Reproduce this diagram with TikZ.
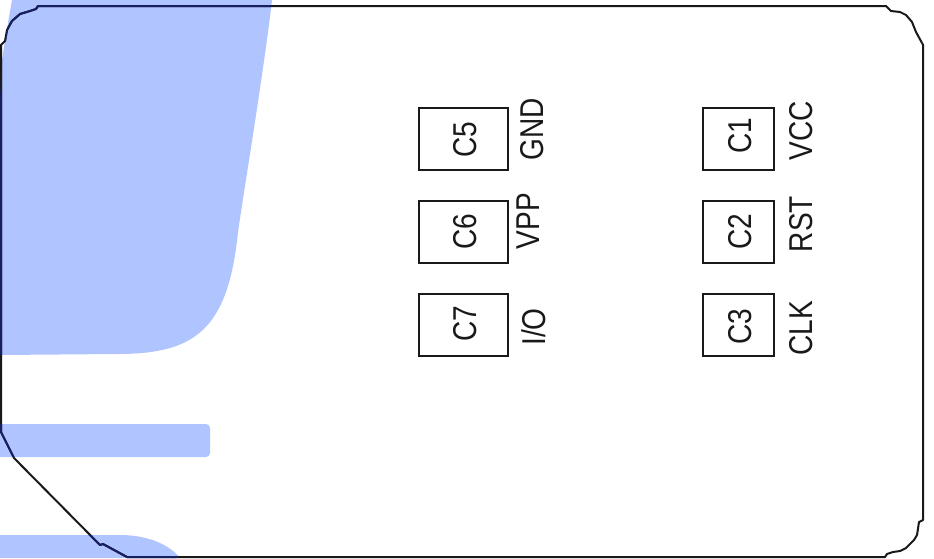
\documentclass[tikz,border=0pt]{standalone}
\usepackage{fontspec}
\setmainfont{Liberation Sans}
\definecolor{cardblue}{RGB}{176,196,255}
\definecolor{linenavy}{RGB}{22,32,96}
\definecolor{inkline}{RGB}{25,25,25}
\tikzset{
  padbox/.style={draw=inkline,line width=2pt,fill=white,minimum width=#1,minimum height=62pt,inner sep=0pt},
  padbox/.default=90pt,
  padtext/.style={rotate=90,xscale=.85,inner sep=0pt,text=inkline,font=\fontsize{33}{33}\selectfont},
}
\def\cardoutline{(38,6) -- (36,9) -- (30,11) -- (20,14) -- (12,21) -- (7,30) -- (5,41) -- (1,45) -- (1,432) -- (14,458) -- (100,545) -- (103,544) -- (127,557) -- (885,557) -- (887,554) -- (893,552) -- (900,551) -- (906,548) -- (914,540) -- (917,535) -- (919,522) -- (923,520) -- (923,45) -- (922,43) -- (916,32) -- (912,22) -- (906,15) -- (900,12) -- (891,11) -- (886,6) -- cycle}
\def\blueone{(12,0) -- (272,0) .. controls (264,70) and (244,190) .. (238,232) .. controls (228,330) and (195,354) .. (117,354) -- (0,355) -- (0,100) -- (2,60) -- (5,40) -- cycle}
\def\bluetwo{[rounded corners=4pt] (-6,424) -- (210,424) -- (210,457) -- (-6,457) -- cycle}
\def\bluethree{(0,535) -- (120,535) .. controls (145,535) and (168,543) .. (180,558) -- (0,558) -- cycle}
\begin{document}
\begin{tikzpicture}[x=1pt,y=-1pt]
\useasboundingbox (0,0) rectangle (934,558);
\fill[white] (0,0) rectangle (934,558);
\fill[cardblue] \blueone;
\fill[cardblue] \bluetwo;
\fill[cardblue] \bluethree;
\draw[inkline,line width=2pt,line join=round] \cardoutline;
\begin{scope}
\clip \blueone \bluetwo \bluethree;
\draw[linenavy,line width=2pt,line join=round] \cardoutline;
\end{scope}
\node[padbox=89pt] (c5) at (463,138.5) {};
\node[padbox=89pt] (c6) at (463,231.5) {};
\node[padbox=89pt] (c7) at (463,325) {};
\node[padbox=71pt] (c1) at (738,138.5) {};
\node[padbox=71pt] (c2) at (738,231.5) {};
\node[padbox=71pt] (c3) at (738,325) {};
\node[padtext] (t5) at (465,140) {C5};
\node[padtext] (t6) at (465,232) {C6};
\node[padtext] (t7) at (465,324) {C7};
\node[padtext] (t1) at (740,136) {C1};
\node[padtext] (t2) at (740,232) {C2};
\node[padtext] (t3) at (740,327) {C3};
\node[padtext] (gnd) at (532,129) {GND};
\node[padtext] (vpp) at (528,221) {VPP};
\node[padtext] (io) at (534,327) {I/O};
\node[padtext] (vcc) at (801,131) {VCC};
\node[padtext] (rst) at (801,224) {RST};
\node[padtext] (clk) at (801,328) {CLK};
\end{tikzpicture}
\end{document}
